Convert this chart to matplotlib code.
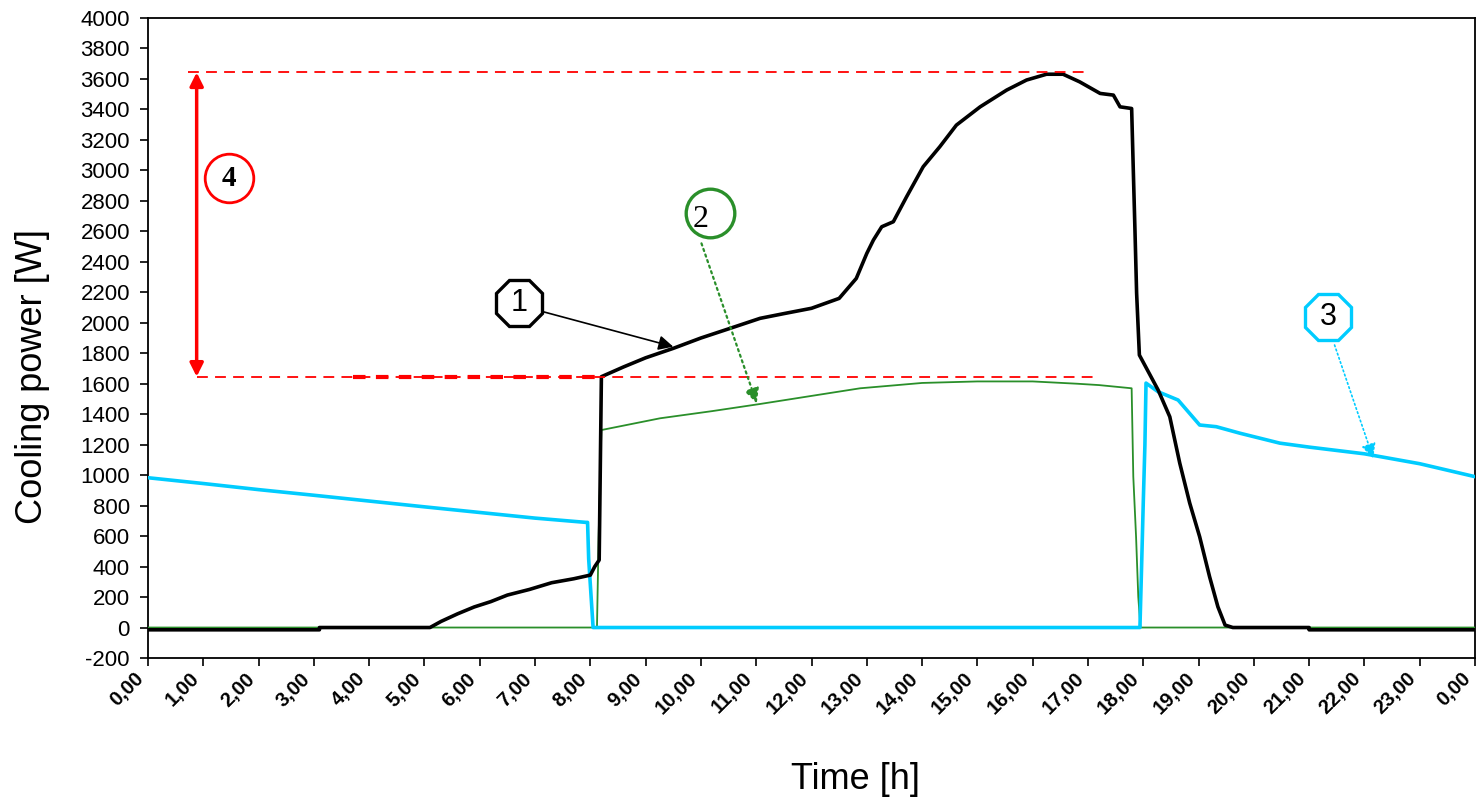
import matplotlib
matplotlib.use("Agg")
from matplotlib import pyplot as plt
import numpy as np

# hours on the x axis, cooling power [W] on the y axis
black_h = [0, 3.1, 3.1, 5.1, 5.3, 5.6, 5.9, 6.2, 6.5, 6.9, 7.3, 7.7, 8.0, 8.08,
           8.16, 8.2, 8.6, 9.0, 9.5, 10.0, 10.5, 11.07, 11.5, 12.0, 12.5, 12.81,
           13.0, 13.12, 13.27, 13.48, 13.72, 14.02, 14.32, 14.62, 15.05, 15.53,
           15.89, 16.25, 16.55, 16.85, 17.22, 17.46, 17.58, 17.79, 17.82, 17.85,
           17.88, 17.93, 18.27, 18.48, 18.66, 18.84, 19.02, 19.2, 19.35, 19.48,
           19.62, 21.0, 21.0, 24.0]
black_w = [-15, -15, 0, 0, 40, 90, 135, 170, 213, 250, 294, 320, 344, 400,
           443, 1646, 1710, 1770, 1832, 1900, 1960, 2029, 2060, 2095, 2160, 2291,
           2455, 2543, 2630, 2663, 2827, 3024, 3155, 3297, 3417, 3527,
           3593, 3631, 3631, 3581, 3505, 3494, 3417, 3406, 3002, 2608,
           2195, 1788, 1558, 1383, 1079, 817, 596, 333, 136, 16,
           0, 0, -15, -15]

green_h = [0, 8.12, 8.15, 8.2, 9.26, 10.2, 11.07, 12.0, 12.88, 14.0, 15.0, 16.0,
           16.8, 17.2, 17.79, 17.8, 17.82, 17.87, 17.91, 17.95, 24.0]
green_w = [0, 0, 600, 1296, 1373, 1420, 1467, 1520, 1570, 1605, 1615, 1615,
           1600, 1591, 1570, 1375, 990, 596, 202, 0, 0]

blue_h = [0, 1, 2, 3, 4, 5, 6, 7, 7.92, 7.95, 7.97, 8.05, 17.94, 17.97, 18.0,
          18.03, 18.05, 18.27, 18.63, 19.02, 19.32, 19.75, 20.47, 21.0, 22.0,
          23.0, 24.0]
blue_w = [983, 945, 905, 868, 830, 792, 755, 718, 690, 690, 450, 0, 0, 400, 817,
          1198, 1604, 1547, 1493, 1329, 1318, 1275, 1210, 1184, 1140,
          1075, 990]

xtick_labels = ["%d,00" % (h % 24) for h in range(25)]
yticks = list(range(-200, 4001, 200))

# red markers for the peak difference (4)
peak_w = 3643
base_w = 1646

fig = plt.figure(figsize=(14.77, 7.99), dpi=100)
ax = fig.add_axes([148 / 1477, 1 - 658 / 799, 1327 / 1477, 640 / 799])

ax.plot(green_h, green_w, color="#2a8f2a", lw=1.3, zorder=3)
ax.plot(blue_h, blue_w, color="#00ccff", lw=2.6, zorder=4)
ax.plot(black_h, black_w, color="black", lw=2.6, zorder=5)

# dashed reference lines
ax.plot([0.73, 16.97], [peak_w, peak_w], color="red", lw=1.3, dashes=(6, 4), zorder=6)
ax.plot([0.88, 17.2], [base_w, base_w], color="red", lw=1.3, dashes=(6, 4), zorder=6)
ax.plot([3.71, 8.23], [base_w, base_w], color="red", lw=3, dashes=(3, 2.5), zorder=6)
ax.annotate("", xy=(0.88, peak_w), xytext=(0.88, base_w),
            arrowprops=dict(arrowstyle="<|-|>", color="red", lw=2.5,
                            mutation_scale=20, shrinkA=0, shrinkB=0), zorder=7)

# callout arrows
ax.annotate("", xy=(9.5, 1843), xytext=(7.15, 2072),
            arrowprops=dict(arrowstyle="-|>", color="black", lw=1.2,
                            mutation_scale=22, shrinkA=0, shrinkB=0), zorder=7)
ax.annotate("", xy=(11.01, 1471), xytext=(10.01, 2521),
            arrowprops=dict(arrowstyle="-|>", color="#2a8f2a", lw=1.6, ls=":",
                            mutation_scale=22, shrinkA=0, shrinkB=0), zorder=7)
ax.annotate("", xy=(22.16, 1110), xytext=(21.46, 1854),
            arrowprops=dict(arrowstyle="-|>", color="#00ccff", lw=1.2, ls=":",
                            mutation_scale=22, shrinkA=0, shrinkB=0), zorder=7)

# numbered labels
ax.plot(1.47, 2948, marker="o", ms=35, mfc="white", mec="red", mew=2, zorder=8)
ax.text(1.47, 2948, "4", ha="center", va="center", fontsize=21,
        family="Liberation Serif", weight="bold", zorder=9)
ax.plot(10.16, 2718, marker="o", ms=35, mfc="white", mec="#2a8f2a", mew=2.4, zorder=8)
ax.text(10.0, 2680, "2", ha="center", va="center", fontsize=23,
        family="Liberation Serif", zorder=9)
ax.plot(6.71, 2131, marker="8", ms=36, mfc="white", mec="black", mew=2.4, zorder=8)
ax.text(6.71, 2131, "1", ha="center", va="center", fontsize=22,
        family="Liberation Sans", zorder=9)
ax.plot(21.34, 2039, marker="8", ms=36, mfc="white", mec="#00ccff", mew=2.4, zorder=8)
ax.text(21.34, 2039, "3", ha="center", va="center", fontsize=22,
        family="Liberation Sans", zorder=9)

ax.set_xlim(0, 24)
ax.set_ylim(-200, 4000)
ax.set_xticks(range(25))
ax.set_xticklabels(xtick_labels, rotation=45, ha="right", va="top",
                   fontsize=14.5, weight="bold", family="Liberation Sans")
ax.set_yticks(yticks)
ax.set_yticklabels([str(v) for v in yticks], fontsize=16, family="Liberation Sans")
ax.tick_params(axis="y", length=6, width=1.2, pad=7)
ax.tick_params(axis="x", length=6, width=1.2, pad=2)
for s in ax.spines.values():
    s.set_linewidth(1.3)

ax.set_ylabel("Cooling power [W]", fontsize=26, family="Liberation Sans")
ax.yaxis.set_label_coords(-0.074, 0.44)
ax.set_xlabel("Time [h]", fontsize=26, family="Liberation Sans")
ax.xaxis.set_label_coords(0.533, -0.163)

fig.savefig("out.png", dpi=100)
